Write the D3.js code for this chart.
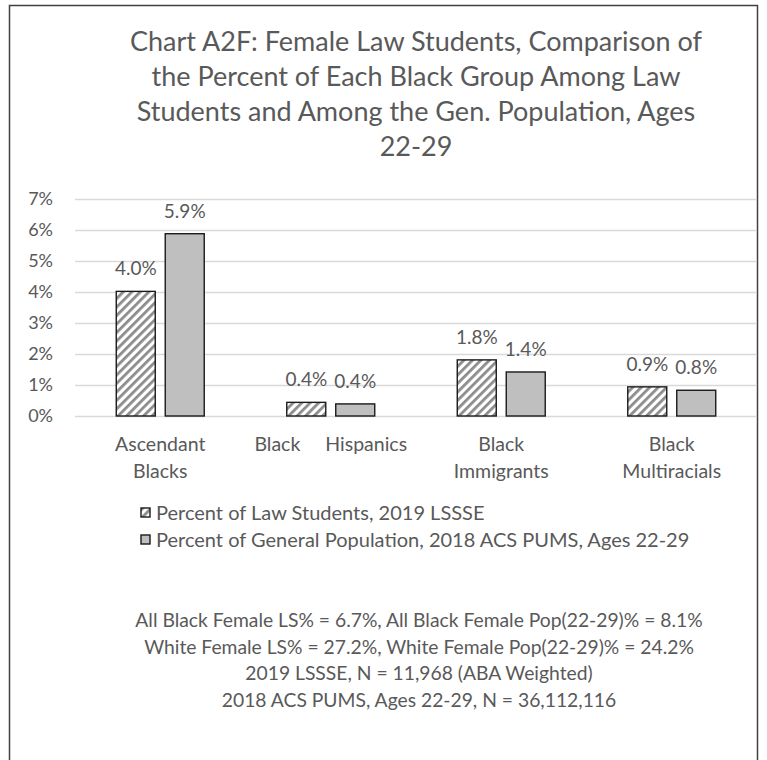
<!DOCTYPE html>
<html>
<head>
<meta charset="utf-8">
<script src="https://cdn.jsdelivr.net/npm/d3@7"></script>
<style>
  body { margin: 0; background: #fff; }
  text { font-family: Lato, "Open Sans", sans-serif; fill: #595959; }
</style>
</head>
<body>
<div id="chart-area"></div>
<script>
// DATA ----------------------------------------------------------------------
const categories = ["Ascendant Blacks", "Black Hispanics", "Black Immigrants", "Black Multiracials"]
const categoryLines = [["Ascendant", "Blacks"], ["Black     Hispanics"], ["Black", "Immigrants"], ["Black", "Multiracials"]]
const seriesNames = ["Percent of Law Students, 2019 LSSSE", "Percent of General Population, 2018 ACS PUMS, Ages 22-29"]
const lawStudents = [4.02, 0.44, 1.81, 0.94]
const genPopulation = [5.88, 0.39, 1.42, 0.83]
const yTicks = [0, 1, 2, 3, 4, 5, 6, 7]
const titleLines = [
  "Chart A2F: Female Law Students, Comparison of",
  "the Percent of Each Black Group Among Law",
  "Students and Among the Gen. Population, Ages",
  "22-29"
]
const notes = [
  "All Black Female LS% = 6.7%, All Black Female Pop(22-29)% = 8.1%",
  "White Female LS% = 27.2%, White Female Pop(22-29)% = 24.2%",
  "2019 LSSSE, N = 11,968 (ABA Weighted)",
  "2018 ACS PUMS, Ages 22-29, N = 36,112,116"
]

// SVG -------------------------------------------------------------------------
const W = 767, H = 760
const PLOT = { LEFT: 75, RIGHT: 757, TOP: 199, BOTTOM: 416 }
const svg = d3.select("#chart-area").append("svg")
  .attr("width", W)
  .attr("height", H)

// hatch pattern for law students
const defs = svg.append("defs")
const pat = defs.append("pattern")
  .attr("id", "hatch")
  .attr("patternUnits", "userSpaceOnUse")
  .attr("width", 6).attr("height", 6)
  .attr("patternTransform", "rotate(45)")
pat.append("rect").attr("width", 6).attr("height", 6).attr("fill", "#fff")
pat.append("rect").attr("x", 0).attr("width", 2.8).attr("height", 6).attr("fill", "#8c8c8c")

// chart border
svg.append("rect")
  .attr("x", 9.5).attr("y", 5.5)
  .attr("width", 748).attr("height", 800)
  .attr("fill", "none")
  .attr("stroke", "#404040")
  .attr("stroke-width", 1.5)

// TITLE
svg.append("g").selectAll("text").data(titleLines).enter().append("text")
  .attr("x", 416)
  .attr("y", (d, i) => 51 + i * 35)
  .attr("text-anchor", "middle")
  .style("font-size", "27px")
  .text(d => d)

// SCALES -----------------------------------------------------------------------
const x0 = d3.scaleBand()
  .domain(categories)
  .range([PLOT.LEFT, PLOT.RIGHT])
  .paddingInner(0.484)
  .paddingOuter(0.242)
const x1 = d3.scaleBand()
  .domain([0, 1])
  .range([0, x0.bandwidth()])
  .paddingInner(0.204)
const y = d3.scaleLinear()
  .domain([0, 7])
  .range([PLOT.BOTTOM, PLOT.TOP])

// GRID + Y AXIS
const yAxis = d3.axisLeft(y).tickValues(yTicks).tickFormat(d => d + "%")
  .tickSize(-(PLOT.RIGHT - PLOT.LEFT)).tickPadding(22)
const gY = svg.append("g")
  .attr("transform", `translate(${PLOT.LEFT}, 0)`)
  .call(yAxis)
gY.select(".domain").remove()
gY.selectAll(".tick line").attr("stroke", "#d9d9d9").attr("stroke-width", 1.3)
gY.selectAll(".tick text").style("font-size", "18px").attr("fill", "#595959")
  .style("font-family", "Lato, sans-serif")

// BARS ---------------------------------------------------------------------------
const rows = categories.map((c, i) => ({ cat: c, vals: [lawStudents[i], genPopulation[i]] }))
const fmt = d3.format(".1f")
const groups = svg.append("g").selectAll("g").data(rows).enter().append("g")
  .attr("transform", d => `translate(${x0(d.cat)}, 0)`)

groups.selectAll("rect").data(d => d.vals).enter().append("rect")
  .attr("x", (d, i) => x1(i))
  .attr("y", d => y(d))
  .attr("width", x1.bandwidth())
  .attr("height", d => y(0) - y(d))
  .attr("fill", (d, i) => i === 0 ? "url(#hatch)" : "#bfbfbf")
  .attr("stroke", "#1a1a1a")
  .attr("stroke-width", 1.4)

groups.selectAll("text.lbl").data(d => d.vals).enter().append("text")
  .attr("class", "lbl")
  .attr("x", (d, i) => x1(i) + x1.bandwidth() / 2)
  .attr("y", d => y(d) - 16)
  .attr("text-anchor", "middle")
  .style("font-size", "19px")
  .text(d => fmt(d) + "%")

// CATEGORY LABELS
const catG = svg.append("g").selectAll("text").data(categories).enter().append("text")
  .attr("x", d => x0(d) + x0.bandwidth() / 2)
  .attr("y", 451)
  .attr("text-anchor", "middle")
  .style("font-size", "19.5px")
  .style("white-space", "pre")
catG.selectAll("tspan").data((d, i) => categoryLines[i]).enter().append("tspan")
  .attr("x", function () { return d3.select(this.parentNode).attr("x") })
  .attr("dy", (d, i) => i === 0 ? 0 : 27)
  .text(d => d)

// LEGEND
const leg = svg.append("g").selectAll("g").data(seriesNames).enter().append("g")
  .attr("transform", (d, i) => `translate(141, ${508 + i * 27})`)
leg.append("rect")
  .attr("width", 9).attr("height", 9)
  .attr("fill", (d, i) => i === 0 ? "url(#hatch)" : "#bfbfbf")
  .attr("stroke", "#1a1a1a").attr("stroke-width", 1.4)
leg.append("text")
  .attr("x", 15).attr("y", 11.5)
  .style("font-size", "20px")
  .text(d => d)

// NOTES
svg.append("g").selectAll("text").data(notes).enter().append("text")
  .attr("x", 419)
  .attr("y", (d, i) => 627 + i * 26.7)
  .attr("text-anchor", "middle")
  .style("font-size", "19.3px")
  .text(d => d)
</script>
</body>
</html>
